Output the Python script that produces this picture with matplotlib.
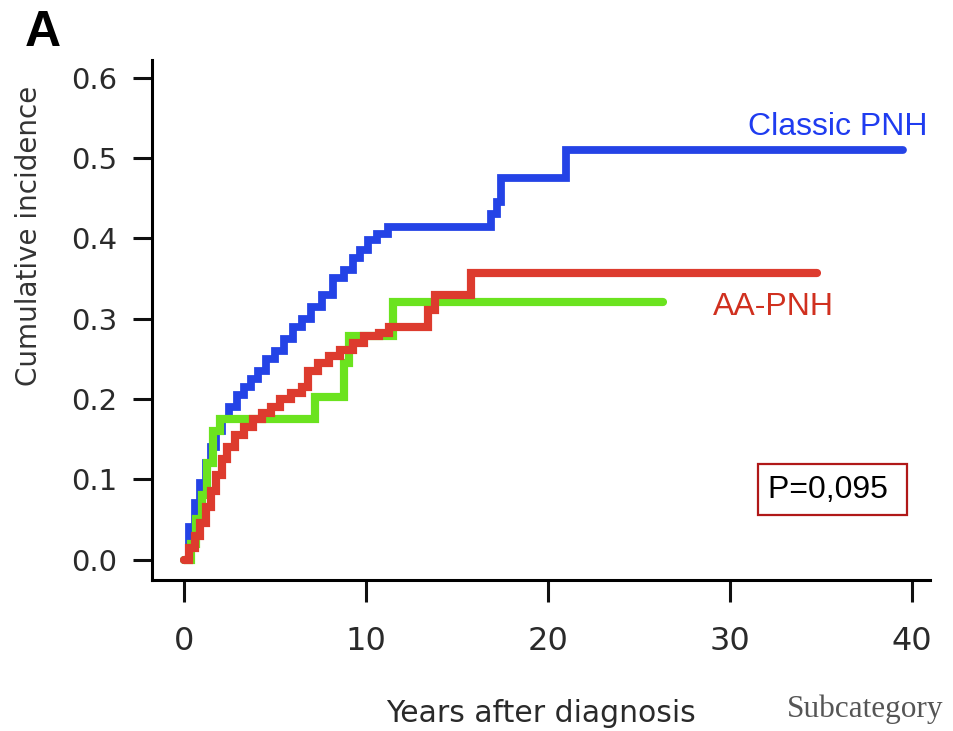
import matplotlib
matplotlib.use("Agg")
import matplotlib.pyplot as plt

plt.rcParams["font.family"] = ["DejaVu Sans"]

# step data (time in years, cumulative incidence after the step)
classic_t = [0, 0.3, 0.6, 0.9, 1.2, 1.5, 1.8, 2.1, 2.5, 2.9, 3.3, 3.7, 4.1, 4.5, 5.0, 5.5,
             6.0, 6.5, 7.0, 7.6, 8.2, 8.8, 9.3, 9.7, 10.1, 10.6, 11.2, 16.9, 17.2, 17.4,
             21.0, 39.5]
classic_v = [0, 0.04, 0.07, 0.095, 0.12, 0.14, 0.16, 0.175, 0.19, 0.205, 0.215, 0.225,
             0.235, 0.25, 0.26, 0.275, 0.29, 0.30, 0.315, 0.33, 0.35, 0.36, 0.375, 0.385,
             0.398, 0.405, 0.414, 0.43, 0.445, 0.475, 0.51, 0.51]

sub_t = [0, 0.4, 0.7, 1.0, 1.3, 1.6, 2.0, 7.2, 8.8, 9.1, 11.5, 26.3]
sub_v = [0, 0.02, 0.05, 0.08, 0.12, 0.16, 0.175, 0.203, 0.245, 0.278, 0.321, 0.321]

aa_t = [0, 0.3, 0.6, 0.9, 1.2, 1.5, 1.8, 2.1, 2.4, 2.8, 3.3, 3.8, 4.3, 4.8, 5.3, 5.9,
        6.5, 6.8, 7.4, 8.0, 8.6, 9.3, 9.9, 10.7, 11.3, 13.4, 13.8, 15.8, 34.8]
aa_v = [0, 0.015, 0.03, 0.045, 0.065, 0.085, 0.105, 0.125, 0.14, 0.155, 0.165, 0.175,
        0.183, 0.19, 0.2, 0.207, 0.215, 0.235, 0.245, 0.253, 0.261, 0.27, 0.278, 0.282,
        0.29, 0.311, 0.33, 0.357, 0.357]

x_ticks = [0, 10, 20, 30, 40]
y_ticks = [0.0, 0.1, 0.2, 0.3, 0.4, 0.5, 0.6]

fig = plt.figure(figsize=(9.54, 7.31), dpi=100)
ax = fig.add_axes([0.159, 0.207, 0.816, 0.711])

ax.step(classic_t, classic_v, where="post", color="#2443e6", lw=5.6,
        solid_capstyle="round", solid_joinstyle="miter")
ax.step(sub_t, sub_v, where="post", color="#6be31f", lw=5.9,
        solid_capstyle="round", solid_joinstyle="miter")
ax.step(aa_t, aa_v, where="post", color="#dd3b2e", lw=5.9,
        solid_capstyle="round", solid_joinstyle="miter")

ax.set_xlim(-1.76, 41.0)
ax.set_ylim(-0.025, 0.622)
ax.set_xticks(x_ticks)
ax.set_xticklabels([str(v) for v in x_ticks])
ax.set_yticks(y_ticks)
ax.set_yticklabels([f"{v:.1f}" for v in y_ticks])

for s in ["top", "right"]:
    ax.spines[s].set_visible(False)
for s in ["left", "bottom"]:
    ax.spines[s].set_linewidth(2.2)
ax.tick_params(axis="both", width=2.2, color="#111111", labelcolor="#2a2a2a")
ax.tick_params(axis="x", length=15.5, pad=18, labelsize=23)
ax.tick_params(axis="y", length=14, pad=11, labelsize=21)

lab = ["Liberation Sans", "DejaVu Sans"]
ax.text(31.0, 0.529, "Classic PNH", color="#1f3cf0", fontsize=23, va="baseline",
        ha="left", family=lab)
ax.text(29.07, 0.305, "AA-PNH", color="#d0301f", fontsize=23, va="baseline",
        ha="left", family=lab)
ax.text(32.09, 0.0772, "P=0,095 ", color="black", fontsize=23, va="baseline",
        ha="left", family=lab,
        bbox=dict(boxstyle="square,pad=0.32", fc="white", ec="#b01818", lw=1.6))

fig.text(29.5 / 954, 1 - 236 / 731, "Cumulative incidence", rotation=90,
         ha="center", va="center", fontsize=20, color="#333333")
fig.text(541 / 954, 1 - 722 / 731, "Years after diagnosis", ha="center", va="baseline",
         fontsize=21.5, color="#2a2a2a")
fig.text(787 / 954, 1 - 717 / 731, "Subcategory", ha="left", va="baseline",
         fontsize=22.5, color="#555555", family="Liberation Serif")
fig.text(25 / 954, 1 - 32.5 / 731, "A", ha="left", va="center", fontsize=36,
         fontweight="bold", family=lab)

fig.savefig("out.png", dpi=100)
